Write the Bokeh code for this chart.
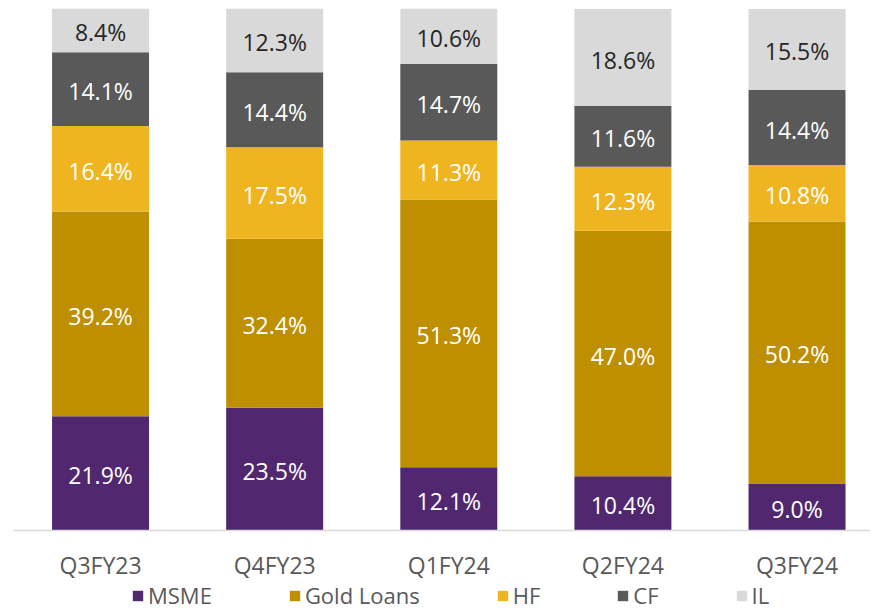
import numpy as np
from bokeh.plotting import figure
from bokeh.models import ColumnDataSource, Range1d, FixedTicker, Legend, LegendItem, LinearAxis
from bokeh.core.properties import value
from bokeh.embed import file_html
from bokeh.resources import INLINE

categories = ["Q3FY23", "Q4FY23", "Q1FY24", "Q2FY24", "Q3FY24"]
series_names = ["MSME", "Gold Loans", "HF", "CF", "IL"]
msme = [21.9, 23.5, 12.1, 10.4, 9.0]
gold_loans = [39.2, 32.4, 51.3, 47.0, 50.2]
hf = [16.4, 17.5, 11.3, 12.3, 10.8]
cf = [14.1, 14.4, 14.7, 11.6, 14.4]
il = [8.4, 12.3, 10.6, 18.6, 15.5]

colors = ["#51286F", "#BE8F00", "#EEB520", "#595959", "#D9D9D9"]
label_colors = ["#FFFFFF", "#FFFFFF", "#FFFFFF", "#FFFFFF", "#262626"]
FONT = "Open Sans"

keys = ["msme", "gold", "hf", "cf", "il"]
vals = [msme, gold_loans, hf, cf, il]
xs = list(range(len(categories)))
data = {"x": xs}
for k, v in zip(keys, vals):
    data[k] = v
source = ColumnDataSource(data)

# frame spans page y 8..610; data 0..100 spans 8..530 (5.22 px per unit)
p = figure(width=870, height=610, output_backend="svg", toolbar_location=None,
           x_range=Range1d(-0.5, 4.422), y_range=Range1d(-80 / 5.22, 100),
           x_axis_location=None, y_axis_location=None,
           min_border_left=13, min_border_right=0, min_border_top=8, min_border_bottom=0)
p.outline_line_color = None
p.grid.visible = False

renderers = p.vbar_stack(keys, x="x", width=0.557, source=source, color=colors,
                         line_color=None)

# data labels
arr = np.array(vals)
cum = np.cumsum(arr, axis=0)
mids = cum - arr / 2.0
for i, k in enumerate(keys):
    lab_src = ColumnDataSource(dict(x=xs, y=list(mids[i]),
                                    t=[f"{v:.1f}%" for v in vals[i]]))
    p.text(x="x", y="y", text="t", source=lab_src, text_align="center",
           text_baseline="middle", text_font=value(FONT), text_font_size="23px",
           text_color=label_colors[i], y_offset=2)

ax = LinearAxis(fixed_location=0)
ax.ticker = FixedTicker(ticks=xs)
ax.major_label_overrides = {i: c for i, c in enumerate(categories)}
ax.major_tick_line_color = None
ax.minor_tick_line_color = None
ax.axis_line_color = "#D9D9D9"
ax.axis_line_width = 1.5
ax.major_label_text_font = FONT
ax.major_label_text_font_size = "23px"
ax.major_label_text_color = "#595959"
ax.major_label_standoff = 12
p.add_layout(ax, "below")

legend = Legend(items=[LegendItem(label=n, renderers=[r]) for n, r in zip(series_names, renderers)],
                orientation="horizontal", location=(118, 0),
                glyph_width=13, glyph_height=13, label_standoff=4, spacing=76,
                padding=0, margin=0, border_line_color=None, background_fill_alpha=0,
                label_text_font=FONT, label_text_font_size="22px", label_text_color="#595959")
p.add_layout(legend, "center")

open("out.html", "w").write(file_html(p, INLINE))
